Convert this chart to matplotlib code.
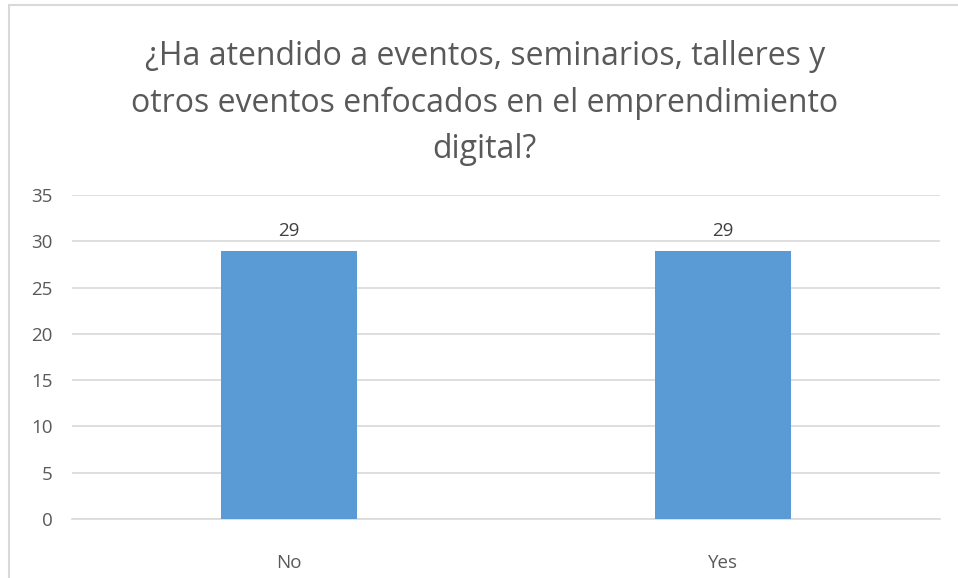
import matplotlib
matplotlib.use("Agg")
import matplotlib.pyplot as plt
from matplotlib.patches import Rectangle

categories = ["No", "Yes"]
values = [29, 29]
title = "¿Ha atendido a eventos, seminarios, talleres y\notros eventos enfocados en el emprendimiento\ndigital?"

plt.rcParams["font.family"] = ["Open Sans", "DejaVu Sans"]

fig = plt.figure(figsize=(9.58, 5.78), dpi=100)
ax = fig.add_axes([0.0752, 0.102, 0.906, 0.5606])

x = range(len(categories))
bars = ax.bar(x, values, width=0.315, color="#5B9BD5", zorder=3)
for b, v in zip(bars, values):
    ax.text(b.get_x() + b.get_width() / 2, v + 1.1, str(v), ha="center", va="bottom",
            fontsize=13.5, color="#404040")

ax.set_xlim(-0.5, 1.5)
ax.set_ylim(0, 35)
ax.set_yticks(range(0, 36, 5))
ax.set_xticks(list(x))
ax.set_xticklabels(categories)
ax.yaxis.grid(True, color="#D9D9D9", linewidth=1.2, zorder=0)
for s in ["top", "right", "left"]:
    ax.spines[s].set_visible(False)
ax.spines["bottom"].set_color("#D9D9D9")
ax.spines["bottom"].set_linewidth(1.2)
ax.tick_params(axis="both", length=0, labelsize=13.5, labelcolor="#595959")
ax.tick_params(axis="y", pad=14)
ax.tick_params(axis="x", pad=25)

fig.text(0.506, 0.822, title, ha="center", va="center", fontsize=23,
         color="#595959", linespacing=1.52)

fig.patches.append(Rectangle((0.0089, -0.01), 1.2, 1.0005, transform=fig.transFigure,
                             fill=False, edgecolor="#D9D9D9", linewidth=1.5))

fig.savefig("out.png", dpi=100)
